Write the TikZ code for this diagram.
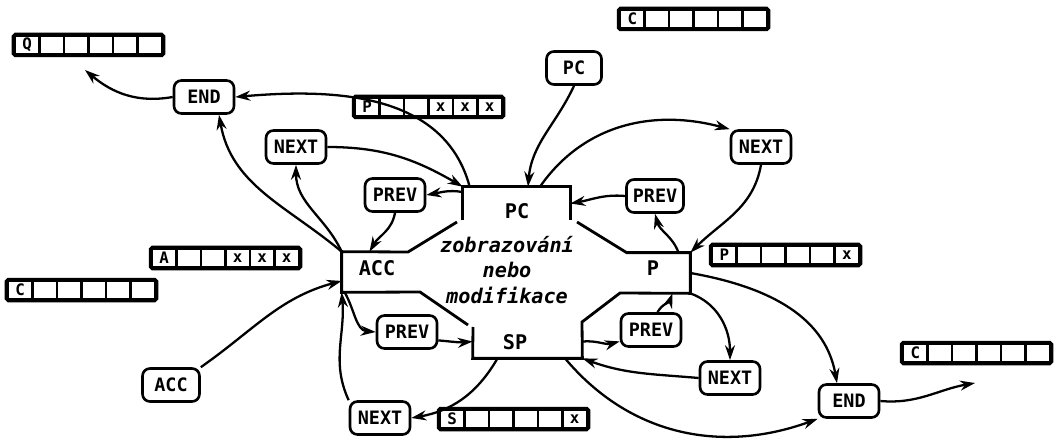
\documentclass[tikz,border=0pt]{standalone}
\usepackage{fontspec}
\setmonofont{DejaVu Sans Mono}
\usetikzlibrary{arrows.meta}

% register row: name, left x, centre y, six cell labels
\newcommand{\regbar}[4]{%
  \foreach \lab [count=\k] in {#4} {
    \node[regcell] (#1-\k) at ({#2+24.5*(\k-0.5)}, #3) {\lab};
  }
  \draw[line width=2.2pt, rounded corners=1pt] (#1-1.north west) rectangle (#1-6.south east);
}

\begin{document}
\begin{tikzpicture}[x=0.2mm, y=-0.2mm,
    opbox/.style={draw, rounded corners=1.5mm, line width=1.5pt, minimum width=12mm, minimum height=6.6mm, inner sep=1pt, font=\ttfamily\bfseries\fontsize{10.5}{10.5}\selectfont},
    regcell/.style={draw, line width=1.5pt, minimum width=4.9mm, minimum height=3.6mm, inner sep=0pt, font=\ttfamily\bfseries\fontsize{9}{9}\selectfont},
    wall/.style={line width=1.6pt},
    conn/.style={line width=1.3pt, -{Stealth[length=3mm, width=2mm]}},
    lab/.style={font=\ttfamily\bfseries\fontsize{11.5}{14.5}\selectfont}]
    \useasboundingbox (0,0) rectangle (1054,441);

    % Centre: the four register boxes
    \node[inner sep=0, minimum width=21.4mm, minimum height=6.6mm] (pcb) at (516.5,203.5) {};
    \node[inner sep=0, minimum width=13.2mm, minimum height=8mm] (accb) at (375,272) {};
    \node[inner sep=0, minimum width=12.6mm, minimum height=8mm] (pb) at (658.5,273) {};
    \node[inner sep=0, minimum width=21.8mm, minimum height=6.6mm] (spb) at (527.5,341.5) {};
    \draw[wall] (pcb.south west) -- (pcb.north west) -- (pcb.north east) -- (pcb.south east);
    \draw[wall] (457,222) -- (408,252) -- (accb.north west) -- (accb.south west) -- (420,292) -- (468,325);
    \draw[wall] (473,327) -- (spb.south west) -- (spb.south east) -- (582,322) -- (620,293) -- (pb.south east) -- (pb.north east) -- (pb.north west) -- (577,222);
    \node[lab] (pclab) at (517,211) {PC};
    \node[lab] (acclab) at (377,268) {ACC};
    \node[lab] (plab) at (653,268) {P};
    \node[lab] (splab) at (515,342) {SP};
    \node[lab, font=\ttfamily\bfseries\itshape\fontsize{11.5}{14.5}\selectfont, align=center] (mid) at (507,270) {zobrazování\\nebo\\modifikace};

    % Operations
    \node[opbox] (endA) at (204,97) {END};
    \node[opbox] (nextA) at (296,147) {NEXT};
    \node[opbox] (prevA) at (395,195) {PREV};
    \node[opbox, minimum width=11mm] (pctop) at (574,68) {PC};
    \node[opbox] (nextB) at (761,147) {NEXT};
    \node[opbox, minimum width=11.4mm] (prevB) at (655,196) {PREV};
    \node[opbox] (prevC) at (407,332) {PREV};
    \node[opbox] (prevD) at (651,330) {PREV};
    \node[opbox, minimum width=11.4mm] (accL) at (171,385) {ACC};
    \node[opbox] (nextC) at (380,418) {NEXT};
    \node[opbox] (nextD) at (730,378) {NEXT};
    \node[opbox] (endB) at (849,401) {END};
    \coordinate (qtip) at (85,70);
    \coordinate (ctip) at (975,383);

    % Registers
    \regbar{qreg}{15}{45}{Q,{},{},{},{},{}}
    \regbar{ptop}{355}{107}{P,{},{},x,x,x}
    \regbar{ctop}{620}{19}{C,{},{},{},{},{}}
    \regbar{areg}{152}{258}{A,{},{},x,x,x}
    \regbar{cleft}{8}{290}{C,{},{},{},{},{}}
    \regbar{pright}{712}{255}{P,{},{},{},{},x}
    \regbar{sreg}{440}{419}{S,{},{},{},{},x}
    \regbar{cright}{903}{353}{C,{},{},{},{},{}}

    % Upper left
    \draw[conn] (endA.west) to[out=190,in=-40] (qtip);
    \draw[conn] ([xshift=1.4mm]pcb.north west) to[out=105,in=5] (endA.east);
    \draw[conn] (accb.north west) to[out=140,in=-80] ([xshift=3mm]endA.south);
    \draw[conn] (accb.north west) to[out=115,in=-90] (nextA.south);
    \draw[conn] (nextA.east) to[out=0,in=150] (pcb.north west);
    \draw[conn] (pcb.168) to[out=170,in=10] (prevA.east);
    \draw[conn] (prevA.south) to[out=-100,in=60] (accb.105);
    % Upper right
    \draw[conn] (pctop.south) to[out=-115,in=85] ([xshift=2.3mm]pcb.north);
    \draw[conn] ([xshift=4.7mm]pcb.north) to[out=55,in=165] (nextB.north west);
    \draw[conn] (nextB.south) to[out=-100,in=45] (pb.north east);
    \draw[conn] ([xshift=4mm]pb.north) to[out=110,in=-75] (prevB.south);
    \draw[conn] (prevB.west) to[out=175,in=10] (pcb.east);
    % Lower left
    \draw[conn] (accL.north east) to[out=35,in=195] (accb.195);
    \draw[conn] ([xshift=0.6mm]accb.south west) to[out=-60,in=175] (prevC.west);
    \draw[conn] (prevC.-15) to[out=-5,in=185] (spb.west);
    \draw[conn] ([xshift=-6mm]spb.south) to[out=-120,in=10] (nextC.east);
    \draw[conn] (nextC.north west) to[out=115,in=-85] (accb.south west);
    % Lower right
    \draw[conn] (spb.east) to[out=5,in=195] (prevD.200);
    \draw[conn] (prevD.70) to[out=60,in=-110] ([xshift=2.8mm]pb.south);
    \draw[conn] (pb.south east) to[out=-20,in=90] (nextD.north);
    \draw[conn] (nextD.west) to[out=175,in=-20] (spb.south east);
    \draw[conn] (pb.east) to[out=-10,in=100] ([xshift=-2.4mm]endB.north);
    \draw[conn] ([xshift=7.5mm]spb.south) to[out=-50,in=200] (endB.south west);
    \draw[conn] (endB.east) to[out=-5,in=190] (ctip);
\end{tikzpicture}
\end{document}
